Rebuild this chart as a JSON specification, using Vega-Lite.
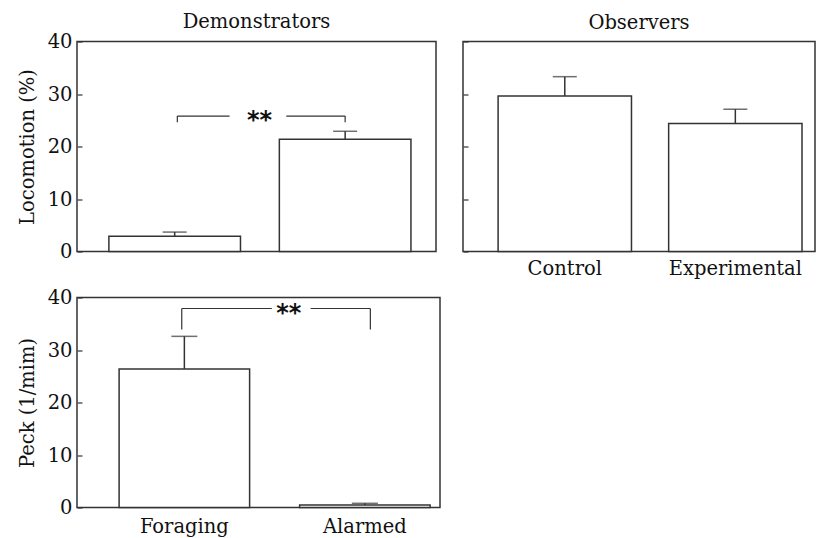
{
  "$schema": "https://vega.github.io/schema/vega-lite/v6.json",
  "padding": {"left": 16, "top": 10.5, "right": 0, "bottom": 0},
  "config": {
    "font": "DejaVu Serif",
    "view": {"stroke": "#333", "strokeWidth": 1.5},
    "axis": {"labelFont": "DejaVu Serif", "labelFontSize": 19.5, "labelColor": "#111", "titleFont": "DejaVu Serif", "titleFontSize": 19.5, "titleFontWeight": "normal", "titleColor": "#111", "domain": false, "tickColor": "#333", "tickWidth": 1.2, "grid": false},
    "title": {"font": "DejaVu Serif", "fontSize": 19.5, "fontWeight": "normal", "color": "#111"}
  },
  "datasets": {
    "demo": [
      {"group": "Foraging", "mean": 2.9, "err": 3.7},
      {"group": "Alarmed", "mean": 21.4, "err": 22.9}
    ],
    "obs": [
      {"group": "Control", "mean": 29.6, "err": 33.3},
      {"group": "Experimental", "mean": 24.4, "err": 27.1}
    ],
    "peck": [
      {"group": "Foraging", "mean": 26.4, "err": 32.6},
      {"group": "Alarmed", "mean": 0.5, "err": 0.8}
    ],
    "sigDemo": [{"a": "Foraging", "b": "Alarmed", "top": 25.8, "low": 24.6, "label": "**"}],
    "sigPeck": [{"a": "Foraging", "b": "Alarmed", "top": 37.9, "low": 33.9, "label": "**"}]
  },
  "spacing": 7,
  "vconcat": [
    {
      "spacing": 24,
      "hconcat": [
        {
          "width": 359,
          "height": 210,
          "title": {"text": "Demonstrators", "offset": -1},
          "layer": [
            {
              "data": {"name": "demo"},
              "mark": {"type": "bar", "fill": "white", "stroke": "#333", "strokeWidth": 1.5},
              "encoding": {
                "x": {"field": "group", "type": "nominal", "axis": null,
                      "scale": {"domain": ["Foraging", "Alarmed"], "paddingInner": 0.228, "paddingOuter": 0.167, "align": 0.56}},
                "y": {"field": "mean", "type": "quantitative", "scale": {"domain": [0, 40], "nice": false},
                      "axis": {"values": [0, 5, 10, 15, 20, 25, 30, 35, 40], "labelExpr": "datum.value % 10 === 0 ? datum.label : ''", "tickSize": -5, "labelPadding": 10, "title": "Locomotion (%)", "titlePadding": 10}}
              }
            },
            {
              "data": {"name": "demo"},
              "mark": {"type": "rule", "stroke": "#333", "strokeWidth": 1.5},
              "encoding": {
                "x": {"field": "group", "type": "nominal"},
                "y": {"field": "mean", "type": "quantitative"},
                "y2": {"field": "err"}
              }
            },
            {
              "data": {"name": "demo"},
              "mark": {"type": "tick", "color": "#333", "size": 24, "thickness": 1.5},
              "encoding": {
                "x": {"field": "group", "type": "nominal"},
                "y": {"field": "err", "type": "quantitative"}
              }
            },
            {
              "data": {"name": "sigDemo"},
              "mark": {"type": "rule", "stroke": "#333", "strokeWidth": 1.2},
              "encoding": {
                "x": {"field": "a", "type": "nominal", "bandPosition": 0.52},
                "y": {"field": "top", "type": "quantitative"},
                "y2": {"field": "low"}
              }
            },
            {
              "data": {"name": "sigDemo"},
              "mark": {"type": "rule", "stroke": "#333", "strokeWidth": 1.2},
              "encoding": {
                "x": {"field": "b", "type": "nominal", "bandPosition": 0.5},
                "y": {"field": "top", "type": "quantitative"},
                "y2": {"field": "low"}
              }
            },
            {
              "data": {"name": "sigDemo"},
              "mark": {"type": "rule", "stroke": "#333", "strokeWidth": 1.2},
              "encoding": {
                "x": {"field": "a", "type": "nominal", "bandPosition": 0.52},
                "x2": {"field": "a", "bandPosition": 0.917},
                "y": {"field": "top", "type": "quantitative"}
              }
            },
            {
              "data": {"name": "sigDemo"},
              "mark": {"type": "rule", "stroke": "#333", "strokeWidth": 1.2},
              "encoding": {
                "x": {"field": "b", "type": "nominal", "bandPosition": 0.053},
                "x2": {"field": "b", "bandPosition": 0.5},
                "y": {"field": "top", "type": "quantitative"}
              }
            },
            {
              "data": {"name": "sigDemo"},
              "mark": {"type": "text", "font": "DejaVu Sans", "fontWeight": "bold", "fontSize": 24, "baseline": "middle", "dy": 5, "color": "#111"},
              "encoding": {
                "x": {"field": "a", "type": "nominal", "bandPosition": 1.144},
                "y": {"field": "top", "type": "quantitative"},
                "text": {"field": "label"}
              }
            }
          ]
        },
        {
          "width": 352,
          "height": 210,
          "title": {"text": "Observers", "offset": 7.5},
          "layer": [
            {
              "data": {"name": "obs"},
              "mark": {"type": "bar", "fill": "white", "stroke": "#333", "strokeWidth": 1.5},
              "encoding": {
                "x": {"field": "group", "type": "nominal",
                      "axis": {"title": null, "labelAngle": 0, "ticks": false, "labelPadding": 8},
                      "scale": {"domain": ["Control", "Experimental"], "paddingInner": 0.218, "paddingOuter": 0.141, "align": 0.73}},
                "y": {"field": "mean", "type": "quantitative", "scale": {"domain": [0, 40], "nice": false},
                      "axis": {"values": [0, 5, 10, 15, 20, 25, 30, 35, 40], "labels": false, "tickSize": -5, "title": null}}
              }
            },
            {
              "data": {"name": "obs"},
              "mark": {"type": "rule", "stroke": "#333", "strokeWidth": 1.5},
              "encoding": {
                "x": {"field": "group", "type": "nominal"},
                "y": {"field": "mean", "type": "quantitative"},
                "y2": {"field": "err"}
              }
            },
            {
              "data": {"name": "obs"},
              "mark": {"type": "tick", "color": "#333", "size": 24, "thickness": 1.5},
              "encoding": {
                "x": {"field": "group", "type": "nominal"},
                "y": {"field": "err", "type": "quantitative"}
              }
            }
          ]
        }
      ]
    },
    {
      "width": 363,
      "height": 210,
      "layer": [
        {
          "data": {"name": "peck"},
          "mark": {"type": "bar", "fill": "white", "stroke": "#333", "strokeWidth": 1.5},
          "encoding": {
            "x": {"field": "group", "type": "nominal",
                  "axis": {"title": null, "labelAngle": 0, "ticks": false, "labelPadding": 10},
                  "scale": {"domain": ["Foraging", "Alarmed"], "paddingInner": 0.277, "paddingOuter": 0.144, "align": 0.81}},
            "y": {"field": "mean", "type": "quantitative", "scale": {"domain": [0, 40], "nice": false},
                  "axis": {"values": [0, 5, 10, 15, 20, 25, 30, 35, 40], "labelExpr": "datum.value % 10 === 0 ? datum.label : ''", "tickSize": -5, "labelPadding": 10, "title": "Peck (1/mim)", "titlePadding": 10}}
          }
        },
        {
          "data": {"name": "peck"},
          "mark": {"type": "rule", "stroke": "#333", "strokeWidth": 1.5},
          "encoding": {
            "x": {"field": "group", "type": "nominal"},
            "y": {"field": "mean", "type": "quantitative"},
            "y2": {"field": "err"}
          }
        },
        {
          "data": {"name": "peck"},
          "mark": {"type": "tick", "color": "#333", "size": 26, "thickness": 1.5},
          "encoding": {
            "x": {"field": "group", "type": "nominal"},
            "y": {"field": "err", "type": "quantitative"}
          }
        },
        {
          "data": {"name": "sigPeck"},
          "mark": {"type": "rule", "stroke": "#333", "strokeWidth": 1.2},
          "encoding": {
            "x": {"field": "a", "type": "nominal", "bandPosition": 0.48},
            "y": {"field": "top", "type": "quantitative"},
            "y2": {"field": "low"}
          }
        },
        {
          "data": {"name": "sigPeck"},
          "mark": {"type": "rule", "stroke": "#333", "strokeWidth": 1.2},
          "encoding": {
            "x": {"field": "b", "type": "nominal", "bandPosition": 0.542},
            "y": {"field": "top", "type": "quantitative"},
            "y2": {"field": "low"}
          }
        },
        {
          "data": {"name": "sigPeck"},
          "mark": {"type": "rule", "stroke": "#333", "strokeWidth": 1.2},
          "encoding": {
            "x": {"field": "a", "type": "nominal", "bandPosition": 0.48},
            "x2": {"field": "a", "bandPosition": 1.17},
            "y": {"field": "top", "type": "quantitative"}
          }
        },
        {
          "data": {"name": "sigPeck"},
          "mark": {"type": "rule", "stroke": "#333", "strokeWidth": 1.2},
          "encoding": {
            "x": {"field": "b", "type": "nominal", "bandPosition": 0.084},
            "x2": {"field": "b", "bandPosition": 0.542},
            "y": {"field": "top", "type": "quantitative"}
          }
        },
        {
          "data": {"name": "sigPeck"},
          "mark": {"type": "text", "font": "DejaVu Sans", "fontWeight": "bold", "fontSize": 24, "baseline": "middle", "dy": 5, "color": "#111"},
          "encoding": {
            "x": {"field": "a", "type": "nominal", "bandPosition": 1.3},
            "y": {"field": "top", "type": "quantitative"},
            "text": {"field": "label"}
          }
        }
      ]
    }
  ]
}
